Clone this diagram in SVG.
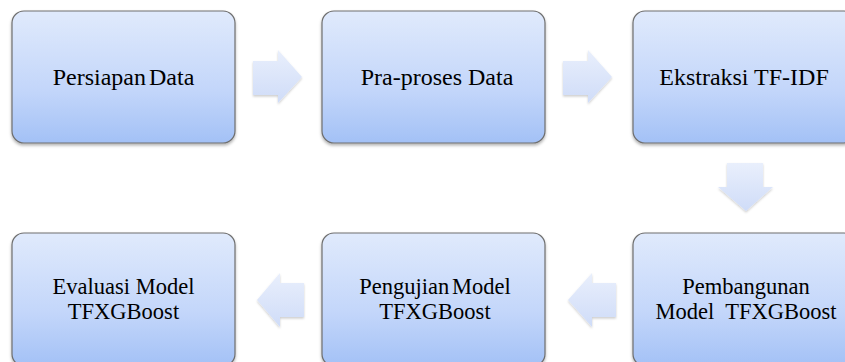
<svg xmlns="http://www.w3.org/2000/svg" width="845" height="362" viewBox="0 0 845 362">
<defs>
<linearGradient id="gb" x1="0" y1="0" x2="0" y2="1">
<stop offset="0" stop-color="#e0eafc"/>
<stop offset="0.6" stop-color="#c3d6fa"/>
<stop offset="1" stop-color="#a3c1f6"/>
</linearGradient>
<linearGradient id="ga" x1="0" y1="0" x2="0" y2="1">
<stop offset="0" stop-color="#e9effc"/>
<stop offset="1" stop-color="#cfdcf8"/>
</linearGradient>
<filter id="sh" x="-10%" y="-10%" width="120%" height="125%">
<feDropShadow dx="0" dy="2" stdDeviation="1.5" flood-color="#000" flood-opacity="0.3"/>
</filter>
<filter id="sha" x="-20%" y="-20%" width="140%" height="140%">
<feDropShadow dx="0" dy="1.5" stdDeviation="1.2" flood-color="#000" flood-opacity="0.2"/>
</filter>
</defs>
<style>
.box{fill:url(#gb);stroke:#6e6e6e;stroke-width:1.2;filter:url(#sh)}
.arr{fill:url(#ga);filter:url(#sha)}
.t{font-family:'Liberation Serif','Times New Roman',serif;font-size:24px;fill:#000;text-anchor:middle}
.t2{font-size:22.5px}
</style>
<rect width="845" height="362" fill="#fff"/>
<g id="connectors">
<polygon class="arr" points="253,61 278,61 278,50 302,77 278,103 278,95 253,95"/>
<polygon class="arr" points="563,61 588,61 588,50 612,77 588,103 588,95 563,95"/>
<polygon class="arr" points="727,163 763,163 763,187 773,187 746,211 718,187 727,187"/>
<polygon class="arr" points="616,283 592,283 592,273 568,300 592,327 592,317 616,317"/>
<polygon class="arr" points="304,283 280,283 280,273 257,300 280,327 280,317 304,317"/>
</g>
<g id="n1">
<rect class="box" x="12" y="11" width="223" height="132" rx="12"/>
<text class="t" x="123.5" y="85" word-spacing="-3">Persiapan Data</text>
</g>
<g id="n2">
<rect class="box" x="322" y="11" width="223" height="132" rx="12"/>
<text class="t" x="437" y="85">Pra-proses Data</text>
</g>
<g id="n3">
<rect class="box" x="633" y="11" width="223" height="132" rx="12"/>
<text class="t" x="744" y="85">Ekstraksi TF-IDF</text>
</g>
<g id="n4">
<rect class="box" x="633" y="233" width="223" height="133" rx="12"/>
<text class="t t2" x="746" y="294">Pembangunan</text>
<text class="t t2" x="746" y="319" xml:space="preserve">Model  TFXGBoost</text>
</g>
<g id="n5">
<rect class="box" x="322" y="233" width="223" height="133" rx="12"/>
<text class="t t2" x="435" y="294" word-spacing="-3">Pengujian Model</text>
<text class="t t2" x="435" y="319">TFXGBoost</text>
</g>
<g id="n6">
<rect class="box" x="12" y="233" width="223" height="133" rx="12"/>
<text class="t t2" x="123.5" y="294">Evaluasi Model</text>
<text class="t t2" x="123.5" y="319">TFXGBoost</text>
</g>
</svg>
